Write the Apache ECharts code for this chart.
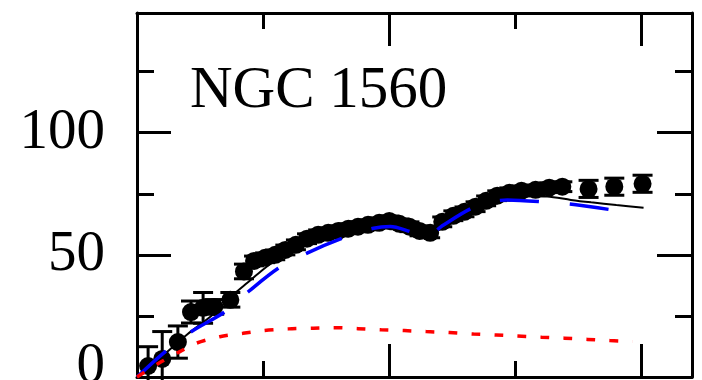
<!DOCTYPE html>
<html><head><meta charset="utf-8">
<script src="https://cdn.jsdelivr.net/npm/echarts@6/dist/echarts.min.js"></script>
<style>html,body{margin:0;padding:0;background:#fff}#c{width:702px;height:380px}</style>
</head><body><div id="c"></div>
<script>
const galaxyName = 'NGC 1560';
const yTickLabels = ['0', '50', '100'];

const obsRadius = [0.22,0.50,0.81,1.07,1.31,1.53,1.85,2.12,2.32,2.54,2.74,2.94,3.15,3.37,3.59,3.79,3.99,4.19,4.38,4.58,4.80,5.00,5.20,5.40,5.60,5.81,6.05,6.27,6.49,6.71,6.92,7.14,7.38,7.62,7.90,8.17,8.43,8.95,9.46,10.02];
const obsVelocity = [4.5,7.4,14.3,26.6,28.3,28.7,31.6,43.2,47.5,48.8,50.0,52.0,54.1,56.6,58.2,59.0,59.8,60.7,61.5,62.3,63.1,63.9,62.7,61.5,59.8,59.0,63.5,66.0,67.6,69.7,72.1,74.2,75.4,76.2,76.6,77.5,77.9,77.0,77.9,79.1];
const obsError = [7.9,11.2,6.6,4.5,6.3,3,3,3,2,2,2,2,2,2,2,2,2,2,2,2,2,2,2,2,2,2,2,2,2,2,2,2,2,2,2,2,2,3.5,3.5,3.5];

const totalRadius = [0,0.5,1.0,1.5,1.9,2.2,2.5,2.8,3.2,3.6,4.0,4.5,5.0,5.4,5.8,6.1,6.5,7.0,7.4,7.8,8.13,8.6,9.0,9.5,10.04];
const totalVelocity = [0,8.5,17.5,25.5,33.6,38.8,44,48.5,53,56.5,59,61,62.5,61,58.5,61.5,65.5,70,73,74,73.9,72.5,71.5,70.4,69.3];

const blueRadius = [0,0.56,1.08,1.75,2.21,2.8,3.37,4.07,4.69,5.02,5.42,5.75,6.05,6.71,7.34,8.1,8.7,9.48];
const blueVelocity = [0,10.4,18.6,26.8,35,44.5,50.7,56.8,60.9,61.6,59.5,57.5,61.9,69.8,72.5,71.6,70.5,68.2];

const redRadius = [0,0.43,0.85,1.17,1.64,2.1,2.52,3.0,3.5,3.91,4.38,4.84,5.3,5.73,6.19,6.67,7.12,7.54,8.02,8.47,8.93,9.37,9.82];
const redVelocity = [0,5.6,10.4,13.8,16.5,17.9,19.0,19.7,20.0,20.2,19.8,19.3,19.0,18.6,18.2,17.6,17.2,16.8,16.3,15.9,15.4,14.9,14.5];

const zip = (a, b) => a.map((v, i) => [v, b[i]]);
const errData = obsRadius.map((r, i) => [r, obsVelocity[i] - obsError[i], obsVelocity[i] + obsError[i]]);

const X_MIN = 0, X_MAX = 11, Y_MIN = 0, Y_MAX = 149;
const tickStyle = {color: '#000', width: 3};
function xAx(pos, interval, len, line) {
  return {type: 'value', min: X_MIN, max: X_MAX, interval: interval, position: pos,
    axisLine: {show: line, onZero: false, lineStyle: {color: '#000', width: 3}},
    axisTick: {show: true, inside: true, length: len, lineStyle: tickStyle},
    axisLabel: {show: false}, splitLine: {show: false}};
}
function yAx(pos, interval, len, line, labels) {
  return {type: 'value', min: Y_MIN, max: Y_MAX, interval: interval, position: pos,
    axisLine: {show: line, onZero: false, lineStyle: {color: '#000', width: 3}},
    axisTick: {show: true, inside: true, length: len, lineStyle: tickStyle},
    axisLabel: labels ? {
      show: true, margin: 32, color: '#000', fontFamily: 'Liberation Serif', fontSize: 57,
      formatter: v => { const s = String(v); if (!yTickLabels.includes(s)) return ''; return v === 0 ? '{z|' + s + '}' : s; },
      rich: {z: {fontFamily: 'Liberation Serif', fontSize: 57, color: '#000', padding: [0, 0, 20, 0]}}
    } : {show: false},
    splitLine: {show: false}};
}

const chart = echarts.init(document.getElementById('c'), null, {renderer: 'canvas'});
chart.setOption({
  animation: false,
  backgroundColor: '#fff',
  grid: {left: 137, right: 10, top: 13, bottom: 3, containLabel: false, outerBoundsMode: 'none'},
  xAxis: [xAx('bottom', 5, 33, true), xAx('bottom', 2.5, 16, false), xAx('top', 5, 33, true), xAx('top', 2.5, 16, false)],
  yAxis: [yAx('left', 50, 34, true, true), yAx('left', 25, 17, false, false), yAx('right', 50, 35, true, false), yAx('right', 25, 17, false, false)],
  graphic: [{type: 'text', left: 190, top: 62, z: 100,
    style: {text: galaxyName, font: '59px "Liberation Serif"', fill: '#000'}}],
  series: [
    {type: 'custom', name: 'errors', xAxisIndex: 0, yAxisIndex: 0, z: 2, data: errData,
      renderItem: (params, api) => {
        const x = api.value(0);
        const lo = api.coord([x, api.value(1)]);
        const hi = api.coord([x, api.value(2)]);
        const hw = 10;
        const st = {stroke: '#000', lineWidth: 3};
        return {type: 'group', children: [
          {type: 'line', shape: {x1: lo[0], y1: lo[1], x2: hi[0], y2: hi[1]}, style: st},
          {type: 'line', shape: {x1: hi[0] - hw, y1: hi[1], x2: hi[0] + hw, y2: hi[1]}, style: st},
          {type: 'line', shape: {x1: lo[0] - hw, y1: lo[1], x2: lo[0] + hw, y2: lo[1]}, style: st}
        ]};
      }},
    {type: 'scatter', name: 'observed', z: 3, symbol: 'circle', symbolSize: 18,
      itemStyle: {color: '#000', opacity: 1}, data: zip(obsRadius, obsVelocity)},
    {type: 'line', name: 'total', z: 5, smooth: 0.3, symbol: 'none',
      lineStyle: {color: '#000', width: 2}, data: zip(totalRadius, totalVelocity)},
    {type: 'line', name: 'blue', z: 6, smooth: 0.3, symbol: 'none',
      lineStyle: {color: '#0000ff', width: 3.5, type: [39, 31]}, data: zip(blueRadius, blueVelocity)},
    {type: 'line', name: 'red', z: 6, smooth: 0.3, symbol: 'none',
      lineStyle: {color: '#ff0000', width: 3.5, type: [9, 14]}, data: zip(redRadius, redVelocity)}
  ]
});
</script></body></html>
